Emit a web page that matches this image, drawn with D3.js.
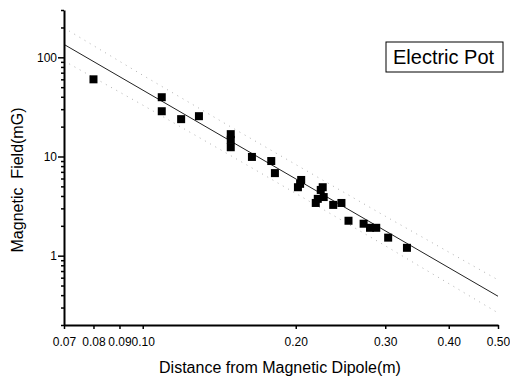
<!DOCTYPE html>
<html>
<head>
<meta charset="utf-8">
<script src="https://cdn.jsdelivr.net/npm/d3@7"></script>
<style>
  body { margin: 0; background: #fff; }
  svg text { font-family: Arial, "Liberation Sans", sans-serif; fill: #000; }
</style>
</head>
<body>
<svg id="chart" width="510" height="381"></svg>
<script>
// Datos medidos (distancia en m, campo en mG)
const distance = [0.080, 0.109, 0.109, 0.119, 0.129, 0.149, 0.149, 0.149, 0.164, 0.179, 0.182,
                  0.202, 0.204, 0.205, 0.219, 0.221, 0.224, 0.226, 0.227, 0.237, 0.246, 0.254,
                  0.272, 0.280, 0.288, 0.304, 0.331];
const field = [60, 39.6, 28.6, 23.8, 25.5, 16.8, 14.7, 12.4, 9.9, 9.0, 6.8,
               4.9, 5.3, 5.8, 3.4, 3.74, 4.6, 4.9, 3.9, 3.25, 3.4, 2.25,
               2.1, 1.91, 1.91, 1.52, 1.20];

// Recta de ajuste y bandas
const fitX = [0.07, 0.5];
const fitY = [135, 0.39];
const bandX = [0.07, 0.10, 0.15, 0.20, 0.30, 0.50];
const upperY = [198, 66, 19.5, 8.3, 2.5, 0.57];
const lowerY = [92, 33, 10.0, 4.25, 1.26, 0.265];

// Ejes
const xTicks = [0.07, 0.08, 0.09, 0.10, 0.20, 0.30, 0.40, 0.50];
const yMajor = [1, 10, 100];
const yMinor = [0.2, 0.3, 0.4, 0.5, 0.6, 0.7, 0.8, 0.9, 2, 3, 4, 5, 6, 7, 8, 9,
                20, 30, 40, 50, 60, 70, 80, 90, 200, 300];
const legendLabel = "Electric Pot";

const margin = { top: 10, right: 12, bottom: 56, left: 64 };
const width = 510 - margin.left - margin.right;
const height = 381 - margin.top - margin.bottom;

const svg = d3.select("#chart");
const g = svg.append("g")
    .attr("transform", `translate(${margin.left},${margin.top})`);

const x = d3.scaleLog().domain([0.07, 0.5]).range([0, width]);
const y = d3.scaleLog().domain([0.2, 300]).range([height, 0]);

// Bandas punteadas
const line = d3.line().x(d => x(d[0])).y(d => y(d[1]));
[upperY, lowerY].forEach(band => {
    g.append("path")
        .attr("d", line(bandX.map((v, i) => [v, band[i]])))
        .attr("fill", "none")
        .attr("stroke", "#b0b0b0")
        .attr("stroke-width", 1)
        .attr("stroke-dasharray", "1,5");
});

// Recta de ajuste
g.append("path")
    .attr("d", line(fitX.map((v, i) => [v, fitY[i]])))
    .attr("fill", "none")
    .attr("stroke", "#222")
    .attr("stroke-width", 1);

// Puntos
const s = 8;
g.selectAll(".pt")
    .data(distance.map((d, i) => [d, field[i]]))
    .enter().append("rect")
    .attr("class", "pt")
    .attr("x", d => x(d[0]) - s / 2)
    .attr("y", d => y(d[1]) - s / 2)
    .attr("width", s)
    .attr("height", s)
    .attr("fill", "#000");

// Eje X
const xAxisG = g.append("g")
    .attr("transform", `translate(0,${height})`)
    .call(d3.axisBottom(x).tickValues(xTicks).tickFormat(d3.format(".2f")).tickSize(4).tickSizeOuter(0));
xAxisG.select(".domain").attr("stroke-width", 2);
xAxisG.selectAll(".tick line").attr("stroke-width", 1.5);
xAxisG.selectAll(".tick text").attr("font-size", 12).attr("dy", "1.2em");

// Eje Y
const yMinorG = g.append("g")
    .call(d3.axisLeft(y).tickValues(yMinor).tickFormat("").tickSize(3).tickSizeOuter(0));
yMinorG.select(".domain").attr("stroke-width", 2);
yMinorG.selectAll(".tick line").attr("stroke-width", 1.5);

const yMajorG = g.append("g")
    .call(d3.axisLeft(y).tickValues(yMajor).tickFormat(d3.format("d")).tickSize(6).tickSizeOuter(0));
yMajorG.select(".domain").remove();
yMajorG.selectAll(".tick line").attr("stroke-width", 1.5);
yMajorG.selectAll(".tick text").attr("font-size", 12).attr("x", -7);

// Etiquetas de ejes
g.append("text")
    .attr("x", 216)
    .attr("y", height + 48)
    .attr("text-anchor", "middle")
    .attr("font-size", 16)
    .text("Distance from Magnetic Dipole(m)");

g.append("text")
    .attr("transform", `translate(${23 - margin.left},${170}) rotate(-90)`)
    .attr("text-anchor", "middle")
    .attr("font-size", 16)
    .style("white-space", "pre")
    .text("Magnetic  Field(mG)");

// Leyenda
const leg = svg.append("g").attr("transform", "translate(386,42)");
leg.append("rect")
    .attr("width", 117).attr("height", 30)
    .attr("fill", "#fff").attr("stroke", "#000").attr("stroke-width", 1);
leg.append("text")
    .attr("x", 7).attr("y", 22)
    .attr("font-size", 20)
    .text(legendLabel);
</script>
</body>
</html>
